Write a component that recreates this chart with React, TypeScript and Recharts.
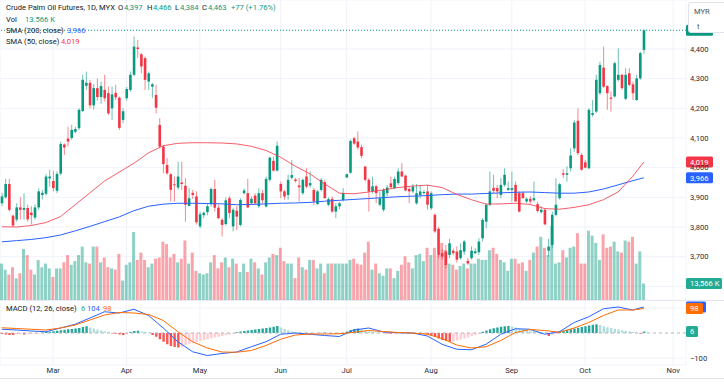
import React from 'react';
import { ComposedChart, Bar, Line, XAxis, YAxis, CartesianGrid, ReferenceLine, Cell } from 'recharts';

document.body.style.margin = '0';

const UP = '#089981';
const DOWN = '#f23645';
const GRID = '#f0f3fa';
const TXT = '#131722';
const FONT = 'Roboto, "Liberation Sans", sans-serif';

// daily OHLC, MYR / t
const opens = [
  3880, 3900, 3945, 3838, 3825, 3866, 3858, 3864, 3848, 3832,
  3866, 3908, 3912, 3964, 3955, 3922, 3980, 4078, 4098, 4100,
  4121, 4133, 4191, 4276, 4286, 4210, 4268, 4238, 4262, 4251,
  4200, 4252, 4236, 4161, 4234, 4262, 4313, 4405, 4382, 4369,
  4290, 4273, 4245, 4144, 4071, 4009, 3978, 3944, 3933, 3950,
  3939, 3871, 3915, 3903, 3802, 3840, 3850, 3877, 3928, 3865,
  3824, 3810, 3897, 3802, 3855, 3807, 3914, 3914, 3880, 3906,
  3870, 3914, 3869, 3959, 4023, 3990, 3945, 3920, 3908, 3966,
  3960, 3940, 3914, 3970, 3940, 3925, 3877, 3925, 3951, 3875,
  3895, 3852, 3870, 3891, 3967, 3983, 4099, 4088, 4069, 4004,
  3959, 3920, 3937, 3875, 3858, 3914, 3947, 3931, 3948, 3987,
  3973, 3928, 3920, 3880, 3908, 3914, 3920, 3863, 3841, 3794,
  3712, 3717, 3706, 3720, 3717, 3695, 3717, 3686, 3695, 3712,
  3715, 3762, 3818, 3875, 3932, 3931, 3908, 3942, 3925, 3925,
  3942, 3914, 3914, 3886, 3895, 3890, 3877, 3850, 3858, 3720,
  3740, 3841, 3897, 3981, 3976, 3998, 4065, 4158, 4043, 4018,
  3998, 4178, 4189, 4251, 4337, 4275, 4236, 4240, 4296, 4313,
  4232, 4318, 4281, 4228, 4301, 4397,
];
const highs = [
  3915, 3962, 3962, 3842, 3880, 3900, 3914, 3875, 3870, 3876,
  3930, 3925, 3978, 3993, 3990, 3987, 4088, 4082, 4138, 4144,
  4138, 4200, 4313, 4324, 4296, 4282, 4300, 4290, 4313, 4273,
  4273, 4279, 4240, 4200, 4272, 4324, 4442, 4430, 4386, 4375,
  4324, 4285, 4279, 4167, 4076, 4032, 3981, 3970, 4020, 4020,
  3965, 3931, 3925, 3920, 3852, 3852, 3880, 3934, 3959, 3875,
  3830, 3900, 3905, 3865, 3870, 3897, 3930, 3962, 3903, 3914,
  3931, 3925, 3970, 4037, 4037, 4088, 3953, 3925, 3976, 4026,
  3965, 3965, 3964, 3998, 3987, 3931, 3925, 3965, 3959, 3900,
  3903, 3880, 3885, 3931, 3980, 4094, 4104, 4122, 4077, 4004,
  3965, 3970, 3942, 3920, 3931, 3942, 3970, 3970, 3998, 4015,
  3976, 3936, 3945, 3945, 3942, 3925, 3942, 3920, 3846, 3800,
  3725, 3740, 3760, 3728, 3735, 3745, 3756, 3695, 3735, 3730,
  3762, 3830, 3880, 3987, 3976, 3942, 3965, 3998, 3953, 3987,
  3953, 3920, 3920, 3900, 3903, 3953, 3885, 3870, 3863, 3760,
  3852, 3964, 3948, 3995, 4005, 4065, 4161, 4200, 4049, 4026,
  4200, 4228, 4313, 4357, 4408, 4278, 4256, 4357, 4402, 4316,
  4335, 4335, 4290, 4313, 4391, 4466,
];
const lows = [
  3870, 3895, 3852, 3800, 3818, 3825, 3825, 3818, 3808, 3825,
  3858, 3893, 3906, 3936, 3920, 3914, 3974, 4043, 4071, 4094,
  4116, 4127, 4187, 4262, 4200, 4196, 4226, 4215, 4223, 4178,
  4161, 4228, 4127, 4150, 4226, 4256, 4308, 4370, 4318, 4262,
  4262, 4235, 4183, 4065, 3981, 3976, 3886, 3886, 3925, 3925,
  3818, 3869, 3895, 3808, 3796, 3830, 3840, 3869, 3852, 3826,
  3768, 3805, 3830, 3785, 3790, 3802, 3910, 3864, 3875, 3875,
  3864, 3880, 3866, 3953, 3987, 3987, 3897, 3892, 3892, 3960,
  3950, 3886, 3908, 3931, 3933, 3875, 3875, 3920, 3897, 3870,
  3848, 3830, 3860, 3886, 3965, 3980, 4077, 4060, 4032, 3953,
  3852, 3914, 3880, 3869, 3852, 3903, 3931, 3929, 3942, 3970,
  3920, 3880, 3914, 3875, 3897, 3910, 3858, 3858, 3780, 3695,
  3690, 3660, 3695, 3705, 3680, 3690, 3706, 3672, 3690, 3708,
  3706, 3751, 3796, 3870, 3914, 3897, 3897, 3936, 3922, 3886,
  3886, 3850, 3897, 3880, 3878, 3886, 3848, 3845, 3806, 3700,
  3730, 3836, 3893, 3965, 3953, 3987, 4054, 4043, 3990, 3998,
  3995, 4172, 4184, 4245, 4268, 4195, 4189, 4236, 4290, 4262,
  4228, 4275, 4228, 4225, 4296, 4384,
];
const closes = [
  3903, 3945, 3858, 3805, 3866, 3858, 3864, 3826, 3840, 3866,
  3920, 3915, 3970, 3970, 3931, 3979, 4080, 4068, 4088, 4127,
  4130, 4195, 4296, 4286, 4210, 4268, 4238, 4275, 4234, 4183,
  4247, 4237, 4134, 4190, 4265, 4313, 4408, 4400, 4341, 4296,
  4318, 4281, 4202, 4071, 4012, 3981, 3925, 3941, 3970, 3945,
  3875, 3897, 3908, 3816, 3843, 3848, 3870, 3928, 3865, 3830,
  3807, 3890, 3847, 3858, 3835, 3891, 3923, 3866, 3895, 3880,
  3914, 3890, 3962, 4034, 3990, 4074, 3920, 3903, 3959, 3975,
  3955, 3934, 3959, 3936, 3948, 3886, 3920, 3959, 3897, 3894,
  3852, 3870, 3880, 3914, 3978, 4090, 4081, 4068, 4040, 3959,
  3920, 3937, 3914, 3897, 3925, 3933, 3934, 3962, 3987, 3970,
  3923, 3920, 3936, 3914, 3920, 3918, 3875, 3914, 3785, 3706,
  3700, 3672, 3745, 3712, 3690, 3722, 3751, 3677, 3720, 3718,
  3751, 3824, 3875, 3920, 3922, 3920, 3942, 3976, 3931, 3931,
  3886, 3852, 3897, 3895, 3886, 3897, 3854, 3858, 3809, 3734,
  3841, 3875, 3944, 3976, 3981, 4041, 4152, 4049, 3993, 4000,
  4195, 4184, 4296, 4346, 4273, 4251, 4232, 4352, 4313, 4268,
  4313, 4279, 4251, 4301, 4386, 4463,
];
// volume, thousands of lots
const volumes = [
  30, 25, 21, 27, 18, 22, 42, 37, 25, 21, 33, 27, 30, 26, 19, 26, 26, 31, 37, 29,
  32, 37, 44, 31, 30, 44, 44, 31, 35, 27, 26, 25, 38, 16, 29, 31, 56, 33, 39, 33,
  27, 30, 34, 35, 48, 46, 35, 38, 31, 34, 49, 30, 39, 24, 22, 21, 22, 31, 37, 26,
  31, 35, 27, 34, 30, 23, 30, 23, 34, 31, 26, 21, 31, 35, 38, 37, 43, 32, 30, 30,
  18, 35, 27, 25, 33, 33, 26, 30, 22, 30, 30, 30, 30, 30, 30, 33, 34, 30, 29, 39,
  48, 25, 30, 22, 20, 26, 26, 18, 24, 29, 36, 31, 26, 37, 38, 32, 43, 37, 43, 37,
  47, 41, 30, 29, 25, 28, 30, 26, 30, 30, 34, 33, 33, 41, 43, 38, 33, 31, 24, 34,
  34, 30, 31, 24, 33, 39, 44, 52, 43, 37, 61, 30, 31, 41, 35, 43, 44, 55, 30, 30,
  57, 53, 47, 33, 54, 43, 44, 48, 40, 39, 49, 48, 52, 30, 40, 13.566,
];

// moving averages and MACD lines, sampled every 4th session
const lineIdx = [
  0, 4, 8, 12, 16, 20, 24, 28, 32, 36, 40, 44, 48, 52, 56, 60, 64, 68, 72, 76, 80, 84,
  88, 92, 96, 100, 104, 108, 112, 116, 120, 124, 128, 132, 136, 140, 144, 148, 152,
  156, 160, 164, 168, 172, 175,
];
const sma50 = [
  3801, 3800, 3805, 3815, 3835, 3875, 3915, 3955, 3985, 4015, 4050, 4074, 4082, 4084,
  4084, 4083, 4080, 4072, 4058, 4035, 4005, 3979, 3945, 3914, 3912, 3918, 3925, 3933,
  3938, 3941, 3933, 3910, 3892, 3877, 3878, 3880, 3876, 3862, 3860, 3866, 3875, 3892,
  3918, 3971, 4019,
];
const sma200 = [
  3750, 3754, 3758, 3764, 3773, 3787, 3802, 3818, 3834, 3855, 3870, 3877, 3880, 3880,
  3879, 3878, 3875, 3876, 3878, 3880, 3881, 3883, 3887, 3890, 3893, 3896, 3899, 3902,
  3904, 3906, 3909, 3911, 3911, 3913, 3915, 3917, 3918, 3916, 3914, 3914, 3918, 3928,
  3942, 3956, 3966,
];
const macdLine = [
  15, 12, 8, 5, 20, 35, 60, 85, 80, 95, 70, 20, -35, -75, -90, -82, -76, -55, -35, -5,
  0, -5, -10, -14, 12, 20, 4, 1, 0, -12, -45, -65, -67, -45, -5, 17, 15, -5, 5, 42, 65,
  97, 104, 92, 104,
];
const signalLine = [
  21, 18, 15, 12, 20, 32, 52, 72, 82, 80, 74, 50, 5, -35, -60, -76, -77, -70, -50, -25,
  -8, -4, -4, -3, 3, 10, 6, 2, 0, -5, -22, -48, -60, -55, -30, 2, 14, 10, 3, 20, 42, 70,
  92, 92, 98,
];
const hist = [
  -4, -6, -8, -8, -6, -5, -6, -5, -4, -3, -2,
  2, 4, 5, 7, 9, 11, 13, 15, 16, 18, 20, 24, 27, 22, 18,
  14, 10, 6, 3, -2, -3, -6, -8, -6, 4, 8, 9, 6, 4, 2,
  -8, -15, -25, -35, -45, -52, -56, -58, -55, -48, -44, -40,
  -36, -32, -28, -25, -22, -18, -15, -12, -9, -6, -3,
  3, 6, 8, 10, 12, 14, 16, 18, 20, 22, 25, 28,
  22, 16, 11, 7, 4,
  2, -1, -2, -3, -2, -1, 1, 2, 1, -1, -2, -3, -2,
  6, 12, 16, 18, 14, 10, 7, 5, 3, 2,
  1, -2, -3, -2, 1, 2, -1, -2, -2, -1, 1, -3, -6,
  -10, -15, -22, -28, -32, -35, -33, -30,
  -26, -22, -18, -13, -8, -4,
  5, 10, 15, 19, 22, 25, 27, 28, 26,
  22, 19, 16, 13, 11, 9, 6, 4, 2,
  -12, -8, -4,
  6, 9, 12, 15, 18, 21, 24, 27, 30, 33, 35, 32,
  27, 23, 20, 17, 14, 11, 8, 6, 4, 2,
  -3, 6,
];

const monthTicks = [14, 34, 54, 76, 94, 117, 139, 159, 183];
const monthLabels = ['Mar', 'Apr', 'May', 'Jun', 'Jul', 'Aug', 'Sep', 'Oct', 'Nov'];
const gridPriceTicks = [3600, 3700, 3800, 3900, 4000, 4100, 4200, 4300, 4400];
const priceTicks = [3700, 3800, 3900, 4000, 4100, 4200, 4300, 4400]; // 3,600 sits under the volume tag
const macdTicks = [-100, 100];

const SLOTS = 187; // sessions plus empty space to the right
const PRICE_DOMAIN = [3554, 4565];
const VOL_DOMAIN = [0, 247];
const MACD_DOMAIN = [-128, 132];

const sampled = (vals: number[]) => {
  const m = new Map<number, number>();
  lineIdx.forEach((k, j) => m.set(k, vals[j]));
  return m;
};
const s50 = sampled(sma50);
const s200 = sampled(sma200);
const sMacd = sampled(macdLine);
const sSig = sampled(signalLine);

const data = Array.from({ length: SLOTS }, (_, i) => {
  if (i >= closes.length) return { i };
  return {
    i,
    o: opens[i],
    h: highs[i],
    l: lows[i],
    c: closes[i],
    range: [lows[i], highs[i]],
    v: volumes[i],
    sma50: s50.has(i) ? s50.get(i) : null,
    sma200: s200.has(i) ? s200.get(i) : null,
    macd: sMacd.has(i) ? sMacd.get(i) : null,
    signal: sSig.has(i) ? sSig.get(i) : null,
    hist: hist[i],
  };
});

const histColor = (k: number) => {
  const v = hist[k];
  const p = k > 0 ? hist[k - 1] : v;
  if (v >= 0) return v >= p ? '#26a69a' : '#b2dfdb';
  return v <= p ? '#ff5252' : '#ffcdd2';
};

const fmt = (n: number) => n.toLocaleString('en-US');

const Candle = (p: any) => {
  const { x, y, width, height, payload } = p;
  if (!payload || payload.c == null) return null;
  const { o, h, l, c } = payload;
  const top = Math.min(y, y + height);
  const span = Math.abs(height);
  const k = h === l ? 0 : span / (h - l);
  const bodyTop = top + (h - Math.max(o, c)) * k;
  const bodyH = Math.max(1, Math.abs(o - c) * k);
  const cx = x + width / 2;
  const col = c >= o ? UP : DOWN;
  return (
    <g>
      <line x1={cx} x2={cx} y1={top} y2={top + span} stroke={col} strokeOpacity={0.6} strokeWidth={1} />
      <rect x={cx - 1.3} y={bodyTop} width={2.6} height={bodyH} fill={col} />
    </g>
  );
};

// price-scale tag; text left out where another tag or box hides it
const AxisTag = ({ viewBox, text, bg, w = 27, maxY }: any) => {
  if (!viewBox) return null;
  const y = maxY != null ? Math.min(viewBox.y, maxY) : viewBox.y;
  const x = viewBox.x + viewBox.width;
  return (
    <g>
      <rect x={x} y={y - 5.5} width={w} height={11} rx={1.5} fill={bg} />
      {text ? <text x={x + 4} y={y + 2.8} fill="#fff" fontSize={7.6}>{text}</text> : null}
    </g>
  );
};

const noDot = () => null;

const txt = (x: number, y: number, s: string, color = TXT) => (
  <span style={{ position: 'absolute', left: x, top: y - 5, lineHeight: '10px', color, whiteSpace: 'nowrap' }}>{s}</span>
);

const App = () => {
  return (
    <div style={{ position: 'relative', width: 724, height: 384, background: '#fff', fontFamily: FONT, fontSize: 7.6, overflow: 'hidden' }}>
      {/* grid + volume */}
      <div style={{ position: 'absolute', left: 0, top: 0 }}>
        <ComposedChart width={724} height={300} data={data} margin={{ top: 0, right: 38, bottom: 0, left: 0 }}>
          <CartesianGrid stroke={GRID} />
          <XAxis dataKey="i" type="category" hide ticks={monthTicks} interval={0} />
          <YAxis hide domain={PRICE_DOMAIN} ticks={gridPriceTicks} allowDataOverflow />
          <YAxis yAxisId="v" hide domain={VOL_DOMAIN} allowDataOverflow />
          <Bar dataKey="v" yAxisId="v" barSize={3} isAnimationActive={false}>
            {data.map((d: any, k) => (
              <Cell key={k} fill={d.c >= d.o ? 'rgba(8,153,129,0.45)' : 'rgba(242,54,69,0.45)'} />
            ))}
          </Bar>
        </ComposedChart>
      </div>

      {/* price */}
      <div style={{ position: 'absolute', left: 0, top: 0 }}>
        <ComposedChart width={724} height={300} data={data} margin={{ top: 0, right: 0, bottom: 0, left: 0 }} barCategoryGap={0}>
          <XAxis dataKey="i" type="category" hide />
          <YAxis
            orientation="right"
            width={38}
            domain={PRICE_DOMAIN}
            ticks={priceTicks}
            allowDataOverflow
            axisLine={false}
            tickLine={false}
            tickSize={0}
            tickMargin={4}
            tickFormatter={fmt}
            tick={{ fontSize: 7.6, fill: '#2a2e39' }}
          />
          <YAxis yAxisId="v" hide domain={VOL_DOMAIN} allowDataOverflow />
          <Bar dataKey="range" shape={(p: any) => <Candle {...p} />} isAnimationActive={false} />
          <Line dataKey="sma200" stroke="#2962ff" strokeWidth={1} dot={noDot} activeDot={false} connectNulls isAnimationActive={false} />
          <Line dataKey="sma50" stroke="#f23645" strokeWidth={1} strokeOpacity={0.8} dot={noDot} activeDot={false} connectNulls isAnimationActive={false} />
          <ReferenceLine y={4463} stroke={UP} strokeDasharray="1 2" label={<AxisTag bg={UP} />} />
          <ReferenceLine y={4019} stroke="none" label={<AxisTag text="4,019" bg="#f23645" />} />
          <ReferenceLine y={3966} stroke="none" label={<AxisTag text="3,966" bg="#2962ff" />} />
          <ReferenceLine yAxisId="v" y={13.566} stroke="none" label={<AxisTag text="13,566 K" bg="#22ab94" w={36} maxY={292} />} />
        </ComposedChart>
      </div>

      {/* pane separator */}
      <div style={{ position: 'absolute', left: 0, top: 299.5, width: 724, height: 1, background: '#e0e3eb' }} />

      {/* MACD */}
      <div style={{ position: 'absolute', left: 0, top: 300 }}>
        <ComposedChart width={724} height={84} data={data} margin={{ top: 0, right: 0, bottom: 0, left: 0 }}>
          <CartesianGrid stroke={GRID} />
          <XAxis
            dataKey="i"
            type="category"
            ticks={monthTicks}
            interval={0}
            height={19}
            axisLine={false}
            tickLine={false}
            tickSize={0}
            tickMargin={3}
            tickFormatter={(v: number) => monthLabels[monthTicks.indexOf(v)] ?? ''}
            tick={{ fontSize: 7.6, fill: '#2a2e39' }}
          />
          <YAxis
            orientation="right"
            width={38}
            domain={MACD_DOMAIN}
            ticks={macdTicks}
            allowDataOverflow
            axisLine={false}
            tickLine={false}
            tickSize={0}
            tickMargin={4}
            tickFormatter={(v: number) => (v < 0 ? '\u2212' + Math.abs(v) : '')}
            tick={{ fontSize: 7.6, fill: '#2a2e39' }}
          />
          <ReferenceLine y={0} stroke="#b2b5be" strokeDasharray="3 3" />
          <Bar dataKey="hist" barSize={2.4} isAnimationActive={false}>
            {data.map((d: any, k) => (
              <Cell key={k} fill={k < hist.length ? histColor(k) : 'none'} />
            ))}
          </Bar>
          <Line dataKey="macd" stroke="#2962ff" strokeWidth={1} dot={noDot} activeDot={false} connectNulls isAnimationActive={false} />
          <Line dataKey="signal" stroke="#ff6d00" strokeWidth={1} dot={noDot} activeDot={false} connectNulls isAnimationActive={false} />
          <ReferenceLine y={104} stroke="none" label={<AxisTag bg="#2962ff" w={20} />} />
          <ReferenceLine y={98} stroke="none" label={<AxisTag text="98" bg="#ff6d00" w={17} />} />
          <ReferenceLine y={6} stroke="none" label={<AxisTag text="6" bg="#22ab94" w={12} />} />
        </ComposedChart>
      </div>

      <div style={{ position: 'absolute', left: 0, top: 377.5, width: 724, height: 1, background: '#e0e3eb' }} />

      {/* legend */}
      {txt(6, 8, 'Crude Palm Oil Futures, 1D, MYX')}
      {txt(118, 8, 'O')}{txt(124, 8, '4,397', UP)}
      {txt(147, 8, 'H')}{txt(153, 8, '4,466', UP)}
      {txt(175, 8, 'L')}{txt(180, 8, '4,384', UP)}
      {txt(202, 8, 'C')}{txt(208, 8, '4,463', UP)}
      {txt(231, 8, '+77 (+1.76%)', UP)}
      {txt(6, 20, 'Vol')}{txt(25, 20, '13.566 K', UP)}
      {txt(6, 31, 'SMA (200, close)')}{txt(67, 31, '3,966', '#2962ff')}
      {txt(6, 42, 'SMA (50, close)')}{txt(61, 42, '4,019', '#f23645')}
      {txt(6, 309, 'MACD (12, 26, close)')}
      {txt(81, 309, '6', '#22ab94')}{txt(87, 309, '104', '#2962ff')}{txt(103, 309, '98', '#ff6d00')}

      {/* currency / unit box */}
      <div
        style={{
          position: 'absolute', left: 688, top: 1.5, width: 40, height: 31, boxSizing: 'border-box',
          border: '1px solid #e0e3eb', borderRadius: 3, background: '#fff', color: '#50535e',
        }}
      >
        <div style={{ position: 'absolute', left: 5, top: 4, lineHeight: '10px' }}>MYR</div>
        <div style={{ position: 'absolute', left: 8, top: 19, lineHeight: '10px' }}>t</div>
      </div>
    </div>
  );
};

export default App;
